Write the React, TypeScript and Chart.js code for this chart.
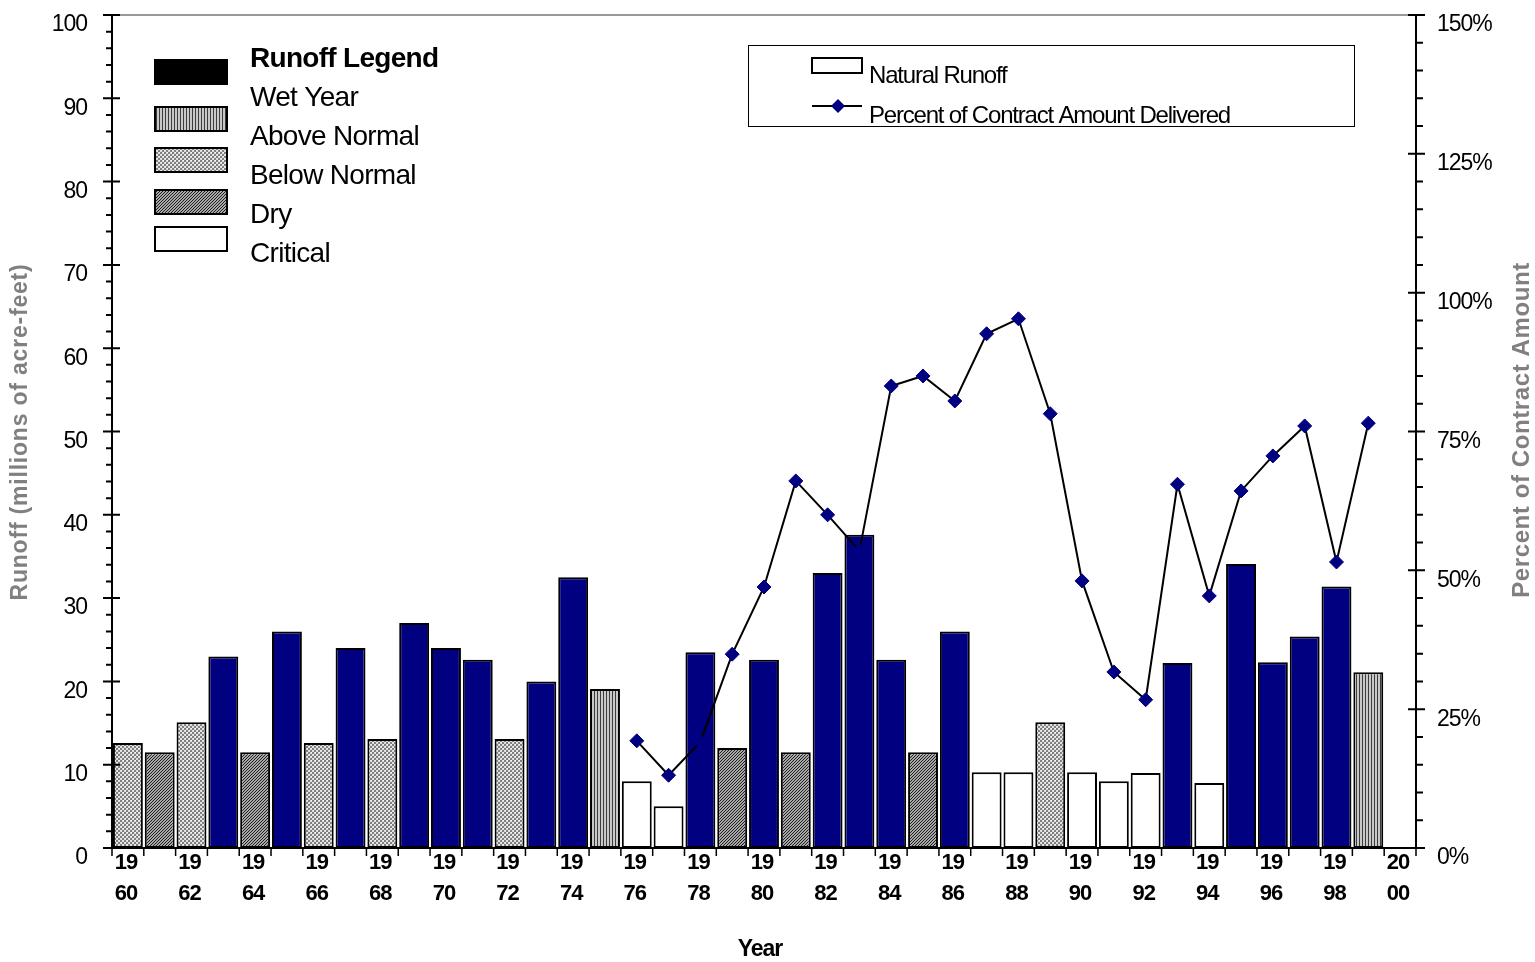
import React, { useEffect, useRef } from 'react';
import { Chart, registerables } from 'chart.js';

Chart.register(...registerables);

const years = [
  '1960', '1961', '1962', '1963', '1964', '1965', '1966', '1967', '1968', '1969',
  '1970', '1971', '1972', '1973', '1974', '1975', '1976', '1977', '1978', '1979',
  '1980', '1981', '1982', '1983', '1984', '1985', '1986', '1987', '1988', '1989',
  '1990', '1991', '1992', '1993', '1994', '1995', '1996', '1997', '1998', '1999',
  '2000',
];

// Natural runoff, millions of acre-feet
const runoff = [
  12.6, 11.5, 15.1, 23.0, 11.5, 26.0, 12.6, 24.0, 13.1, 27.0,
  24.0, 22.6, 13.1, 20.0, 32.5, 19.1, 8.0, 5.0, 23.5, 12.0,
  22.6, 11.5, 33.0, 37.6, 22.6, 11.5, 26.0, 9.1, 9.1, 15.1,
  9.1, 8.0, 9.0, 22.2, 7.8, 34.1, 22.3, 25.4, 31.4, 21.1,
  null,
];

// W = Wet, AN = Above Normal, BN = Below Normal, D = Dry, C = Critical
const yearTypes = [
  'BN', 'D', 'BN', 'W', 'D', 'W', 'BN', 'W', 'BN', 'W',
  'W', 'W', 'BN', 'W', 'W', 'AN', 'C', 'C', 'W', 'D',
  'W', 'D', 'W', 'W', 'W', 'D', 'W', 'C', 'C', 'BN',
  'C', 'C', 'C', 'W', 'C', 'W', 'W', 'W', 'W', 'AN',
  '',
];

// Percent of contract amount delivered
const percentDelivered = [
  null, null, null, null, null, null, null, null, null, null,
  null, null, null, null, null, null, 19.3, 13.1, 19.1, 34.9,
  47.0, 66.1, 60.0, 53.5, 83.2, 85.0, 80.5, 92.6, 95.3, 78.2,
  48.1, 31.7, 26.7, 65.5, 45.4, 64.3, 70.6, 76.0, 51.5, 76.5,
  null,
];

const leftTicks = [0, 10, 20, 30, 40, 50, 60, 70, 80, 90, 100];
const rightTicks = [0, 25, 50, 75, 100, 125, 150];

const legendTypes = ['W', 'AN', 'BN', 'D', 'C'];
const legendLabels = ['Wet Year', 'Above Normal', 'Below Normal', 'Dry', 'Critical'];

const FONT = "'Liberation Sans', Arial, Helvetica, sans-serif";
const NAVY = '#000080';

function makePattern(kind: string): CanvasPattern | string {
  const c = document.createElement('canvas');
  const g = c.getContext('2d') as CanvasRenderingContext2D;
  if (kind === 'AN') {
    c.width = 3; c.height = 3;
    g.fillStyle = '#c8c8c8'; g.fillRect(0, 0, 3, 3);
    g.fillStyle = '#3c3c3c'; g.fillRect(0, 0, 1, 3);
  } else if (kind === 'BN') {
    c.width = 4; c.height = 4;
    g.fillStyle = '#dedede'; g.fillRect(0, 0, 4, 4);
    g.fillStyle = '#808080'; g.fillRect(0, 0, 2, 2); g.fillRect(2, 2, 2, 2);
    g.fillStyle = '#f4f4f4'; g.fillRect(3, 0, 1, 1); g.fillRect(1, 2, 1, 1);
  } else if (kind === 'D') {
    c.width = 3; c.height = 3;
    g.fillStyle = '#a8a8a8'; g.fillRect(0, 0, 3, 3);
    g.fillStyle = '#1e1e1e';
    g.fillRect(2, 0, 1, 1); g.fillRect(1, 1, 1, 1); g.fillRect(0, 2, 1, 1);
  } else if (kind === 'W') {
    return NAVY;
  } else {
    return '#ffffff';
  }
  const p = g.createPattern(c, 'repeat');
  return p || '#cccccc';
}

export default function App() {
  const ref = useRef<HTMLCanvasElement | null>(null);

  useEffect(() => {
    document.body.style.margin = '0';
    const canvas = ref.current;
    if (!canvas) return;

    const fills: Record<string, CanvasPattern | string> = {
      W: makePattern('W'),
      AN: makePattern('AN'),
      BN: makePattern('BN'),
      D: makePattern('D'),
      C: makePattern('C'),
      '': '#ffffff',
    };

    const noPad = (s: any) => {
      s.paddingTop = 0;
      s.paddingBottom = 0;
      s.paddingLeft = 0;
      s.paddingRight = 0;
    };

    const decor = {
      id: 'decor',
      beforeDraw(chart: any) {
        chart.ctx.letterSpacing = '-1px';
      },
      afterDraw(chart: any) {
        const ctx: CanvasRenderingContext2D = chart.ctx;
        const { left, right, top, bottom } = chart.chartArea;
        const xs = chart.scales.x;
        const yl = chart.scales.y;
        const yr = chart.scales.y1;
        ctx.save();
        ctx.letterSpacing = '0px';

        // top plot border (gray)
        ctx.strokeStyle = '#999999';
        ctx.lineWidth = 2;
        ctx.beginPath();
        ctx.moveTo(left, top);
        ctx.lineTo(right, top);
        ctx.stroke();

        // axis lines
        ctx.strokeStyle = '#000';
        ctx.lineWidth = 2;
        ctx.beginPath();
        ctx.moveTo(left, top);
        ctx.lineTo(left, bottom);
        ctx.moveTo(right, top);
        ctx.lineTo(right, bottom);
        ctx.moveTo(left, bottom);
        ctx.lineTo(right, bottom);
        ctx.stroke();

        // left ticks
        ctx.lineWidth = 2;
        ctx.beginPath();
        for (let v = 0; v <= 100; v += 2) {
          const py = yl.getPixelForValue(v);
          if (v % 10 === 0) { ctx.moveTo(left - 9, py); ctx.lineTo(left + 8, py); }
          else { ctx.moveTo(left - 6, py); ctx.lineTo(left, py); }
        }
        // right ticks
        for (let v = 0; v <= 150; v += 5) {
          const py = yr.getPixelForValue(v);
          if (v % 25 === 0) { ctx.moveTo(right - 8, py); ctx.lineTo(right + 9, py); }
          else { ctx.moveTo(right, py); ctx.lineTo(right + 7, py); }
        }
        ctx.stroke();
        // x ticks at category boundaries
        ctx.lineWidth = 1.5;
        ctx.beginPath();
        const n = years.length;
        const half = (xs.getPixelForValue(1) - xs.getPixelForValue(0)) / 2;
        for (let i = 0; i <= n; i++) {
          const px = i < n ? xs.getPixelForValue(i) - half : xs.getPixelForValue(n - 1) + half;
          ctx.moveTo(px, bottom);
          ctx.lineTo(px, bottom + 8);
        }
        ctx.stroke();

        // axis titles
        ctx.fillStyle = '#808080';
        ctx.font = `bold 23px ${FONT}`;
        ctx.textAlign = 'center';
        ctx.textBaseline = 'middle';
        ctx.letterSpacing = '0.8px';
        ctx.save();
        ctx.translate(21, 432);
        ctx.rotate(-Math.PI / 2);
        ctx.fillText('Runoff (millions of acre-feet)', 0, 0);
        ctx.restore();
        ctx.save();
        ctx.translate(1522, 430);
        ctx.rotate(-Math.PI / 2);
        ctx.font = `bold 24px ${FONT}`;
        ctx.letterSpacing = '0.6px';
        ctx.fillText('Percent of Contract Amount', 0, 0);
        ctx.restore();

        ctx.fillStyle = '#000';
        ctx.font = `bold 23px ${FONT}`;
        ctx.letterSpacing = '-1px';
        ctx.fillText('Year', 760, 950);

        // Runoff legend (top-left)
        ctx.textAlign = 'left';
        ctx.letterSpacing = '-0.7px';
        ctx.font = `bold 28px ${FONT}`;
        ctx.fillText('Runoff Legend', 250, 59);
        ctx.font = `28px ${FONT}`;
        const textY = [98, 137, 176, 215, 254];
        const swTop = [60, 107, 148, 190, 227];
        legendTypes.forEach((t, i) => {
          ctx.fillStyle = '#000';
          ctx.fillText(legendLabels[i], 250, textY[i]);
          ctx.fillStyle = t === 'W' ? '#000000' : (fills[t] as any);
          ctx.fillRect(155, swTop[i], 72, 24);
          ctx.strokeStyle = '#000';
          ctx.lineWidth = 2;
          ctx.strokeRect(155, swTop[i], 72, 24);
        });

        // series legend box (top-right)
        ctx.strokeStyle = '#000';
        ctx.lineWidth = 1;
        ctx.strokeRect(748.5, 45.5, 606, 81);
        ctx.fillStyle = '#fff';
        ctx.fillRect(812, 58, 50, 15);
        ctx.lineWidth = 2;
        ctx.strokeRect(812, 58, 50, 15);
        ctx.beginPath();
        ctx.moveTo(812, 106);
        ctx.lineTo(862, 106);
        ctx.stroke();
        ctx.fillStyle = NAVY;
        ctx.beginPath();
        ctx.moveTo(838, 99);
        ctx.lineTo(845, 106);
        ctx.lineTo(838, 113);
        ctx.lineTo(831, 106);
        ctx.closePath();
        ctx.fill();
        ctx.fillStyle = '#000';
        ctx.font = `24px ${FONT}`;
        ctx.letterSpacing = '-1.2px';
        ctx.fillText('Natural Runoff', 869, 76);
        ctx.fillText('Percent of Contract Amount Delivered', 869, 116);

        ctx.restore();
      },
    };

    const chart = new Chart(canvas, {
      type: 'bar',
      data: {
        labels: years,
        datasets: [
          {
            type: 'line',
            label: 'Percent of Contract Amount Delivered',
            data: percentDelivered as any,
            yAxisID: 'y1',
            borderColor: '#000',
            borderWidth: 2,
            tension: 0,
            pointStyle: 'rectRot',
            pointRadius: 7,
            pointBackgroundColor: NAVY,
            pointBorderColor: NAVY,
            pointBorderWidth: 1,
            spanGaps: false,
            order: 0,
          } as any,
          {
            type: 'bar',
            label: 'Natural Runoff',
            data: runoff as any,
            yAxisID: 'y',
            backgroundColor: yearTypes.map((t) => fills[t]) as any,
            borderColor: '#000',
            borderWidth: 2,
            borderSkipped: false,
            barPercentage: 0.94,
            categoryPercentage: 1,
            order: 1,
          } as any,
        ],
      },
      options: {
        responsive: false,
        animation: false,
        layout: { padding: { top: 15, left: 0, right: 0, bottom: 0 } },
        plugins: {
          legend: { display: false },
          tooltip: { enabled: false },
        },
        scales: {
          x: {
            type: 'category',
            offset: true,
            grid: { display: false },
            border: { display: false },
            ticks: {
              autoSkip: false,
              maxRotation: 0,
              minRotation: 0,
              padding: -8,
              labelOffset: -2,
              color: '#000',
              font: { family: FONT, size: 22, weight: 'bold', lineHeight: 1.4 },
              callback: (_v: any, i: number) => {
                const y = years[i];
                if (!y) return '';
                const num = parseInt(y, 10);
                if (num % 2 !== 0) return '';
                return [y.slice(0, 2), y.slice(2)];
              },
            },
            afterFit: (s: any) => { s.height = 114; noPad(s); },
          },
          y: {
            position: 'left',
            min: 0,
            max: 100,
            grid: { display: false },
            border: { display: false },
            afterBuildTicks: (s: any) => { s.ticks = leftTicks.map((v) => ({ value: v })); },
            ticks: {
              padding: 17,
              labelOffset: 10,
              color: '#000',
              font: { family: FONT, size: 23 },
              callback: (v: any) => String(v),
            },
            afterFit: (s: any) => { s.width = 112; noPad(s); },
          },
          y1: {
            position: 'right',
            min: 0,
            max: 150,
            grid: { display: false },
            border: { display: false },
            afterBuildTicks: (s: any) => { s.ticks = rightTicks.map((v) => ({ value: v })); },
            ticks: {
              padding: 13,
              labelOffset: 10,
              color: '#000',
              font: { family: FONT, size: 23 },
              callback: (v: any) => `${v}%`,
            },
            afterFit: (s: any) => { s.width = 119; noPad(s); },
          },
        },
      } as any,
      plugins: [decor],
    });

    return () => { chart.destroy(); };
  }, []);

  return (
    <div style={{ position: 'fixed', left: 0, top: 0, width: 1535, height: 962, background: '#fff' }}>
      <canvas ref={ref} width={1535} height={962} style={{ width: 1535, height: 962, display: 'block' }} />
    </div>
  );
}
